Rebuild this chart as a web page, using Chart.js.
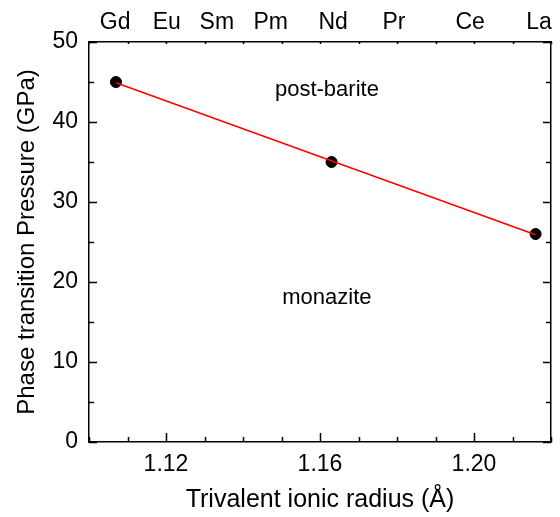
<!DOCTYPE html>
<html>
<head>
<meta charset="utf-8">
<script src="https://cdn.jsdelivr.net/npm/chart.js@4.4.1/dist/chart.umd.min.js"></script>
<style>
  html, body { margin: 0; padding: 0; background: #fff; }
  #wrap { width: 560px; height: 517px; }
</style>
</head>
<body>
<div id="wrap"><canvas id="chart"></canvas></div>
<script>
// measured transition pressures vs Shannon radius
const radii = [1.107, 1.163, 1.216];
const pressures = [45, 35, 26];

// linear fit through the three points
const fitRadii = [1.107, 1.216];
const fitPressures = [44.9, 25.9];

// element names along the top axis
const elements = ['Gd', 'Eu', 'Sm', 'Pm', 'Nd', 'Pr', 'Ce', 'La'];
const elementRadii = [1.1068, 1.1202, 1.1332, 1.1472, 1.1634, 1.1792, 1.1990, 1.2169];

const xTicks = [1.12, 1.16, 1.20];
const yTicks = [0, 10, 20, 30, 40, 50];

// phase regions
const regionNames = ['post-barite', 'monazite'];
const regionAt = [[1.1618, 44], [1.1618, 18]];

const FONT = '"Liberation Sans", Arial, sans-serif';

// inward tick marks on all four sides + region labels
const framePlugin = {
  id: 'frame',
  afterDraw(chart) {
    const { ctx, chartArea: a, scales } = chart;
    const x = scales.x, y = scales.y;
    ctx.save();
    ctx.strokeStyle = '#000';
    ctx.lineWidth = 1.5;
    ctx.beginPath();
    for (let i = 0; i <= 12; i++) {
      const v = 1.10 + i * 0.01;
      const px = Math.round(x.getPixelForValue(v)) + 0.5;
      const major = xTicks.some(t => Math.abs(t - v) < 1e-6);
      const len = major ? 9 : 5;
      ctx.moveTo(px, a.bottom); ctx.lineTo(px, a.bottom - len);
      ctx.moveTo(px, a.top); ctx.lineTo(px, a.top + 2);
    }
    for (let v = 0; v <= 50; v += 5) {
      const py = Math.round(y.getPixelForValue(v)) + 0.5;
      const len = v % 10 === 0 ? 8 : 5;
      ctx.moveTo(a.left, py); ctx.lineTo(a.left + len, py);
      ctx.moveTo(a.right, py); ctx.lineTo(a.right - len, py);
    }
    ctx.stroke();

    ctx.fillStyle = '#000';
    ctx.font = '22px ' + FONT;
    ctx.textAlign = 'center';
    ctx.textBaseline = 'middle';
    regionNames.forEach((name, i) => {
      ctx.fillText(name, x.getPixelForValue(regionAt[i][0]), y.getPixelForValue(regionAt[i][1]));
    });
    ctx.restore();
  }
};

const axisBorder = { display: true, color: '#000', width: 1.5 };

new Chart(document.getElementById('chart'), {
  type: 'scatter',
  data: {
    datasets: [
      {
        label: 'fit',
        data: fitRadii.map((r, i) => ({ x: r, y: fitPressures[i] })),
        showLine: true,
        borderColor: '#ff0000',
        borderWidth: 1.5,
        pointRadius: 0,
        order: 0
      },
      {
        label: 'pressure',
        data: radii.map((r, i) => ({ x: r, y: pressures[i] })),
        showLine: false,
        backgroundColor: '#000',
        borderColor: '#000',
        pointRadius: 5.5,
        order: 1
      }
    ]
  },
  options: {
    responsive: true,
    maintainAspectRatio: false,
    animation: false,
    layout: { padding: 0 },
    plugins: {
      legend: { display: false },
      tooltip: { enabled: false }
    },
    scales: {
      x: {
        type: 'linear',
        position: 'bottom',
        min: 1.10,
        max: 1.22,
        afterBuildTicks: s => { s.ticks = xTicks.map(v => ({ value: v })); },
        afterFit: s => { s.height = 75; },
        grid: { display: false, drawTicks: false },
        border: axisBorder,
        ticks: {
          color: '#000',
          font: { family: FONT, size: 23 },
          padding: 9,
          maxRotation: 0,
          autoSkip: false,
          callback: v => v.toFixed(2)
        },
        title: {
          display: true,
          text: 'Trivalent ionic radius (Å)',
          color: '#000',
          font: { family: FONT, size: 25 },
          padding: { top: 0, bottom: 2 }
        }
      },
      x2: {
        type: 'linear',
        position: 'top',
        min: 1.10,
        max: 1.22,
        afterBuildTicks: s => { s.ticks = elementRadii.map(v => ({ value: v })); },
        afterFit: s => { s.height = 42; },
        grid: { display: false, drawTicks: false },
        border: axisBorder,
        ticks: {
          color: '#000',
          font: { family: FONT, size: 23 },
          padding: 6,
          maxRotation: 0,
          autoSkip: false,
          callback: (v, i) => elements[i]
        }
      },
      y: {
        type: 'linear',
        position: 'left',
        min: 0,
        max: 50,
        afterBuildTicks: s => { s.ticks = yTicks.map(v => ({ value: v })); },
        afterFit: s => { s.width = 89; },
        grid: { display: false, drawTicks: false },
        border: axisBorder,
        ticks: {
          color: '#000',
          font: { family: FONT, size: 23 },
          padding: 11
        },
        title: {
          display: true,
          text: 'Phase transition Pressure (GPa)',
          color: '#000',
          font: { family: FONT, size: 24 },
          padding: { top: 13, bottom: 0 }
        }
      },
      y2: {
        type: 'linear',
        position: 'right',
        min: 0,
        max: 50,
        afterFit: s => { s.width = 9; },
        grid: { display: false, drawTicks: false },
        border: axisBorder,
        ticks: { display: false }
      }
    }
  },
  plugins: [framePlugin]
});
</script>
</body>
</html>
